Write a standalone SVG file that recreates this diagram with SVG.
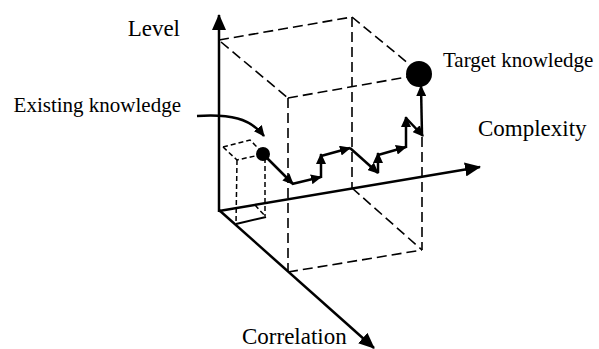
<svg xmlns="http://www.w3.org/2000/svg" width="599" height="349" viewBox="0 0 599 349">
<style>
text{font-family:"Liberation Serif","Times New Roman",serif;fill:#000}
.ax{stroke:#000;stroke-width:2.5;fill:none}
.st{stroke:#000;stroke-width:2.5;fill:none}
.dash{stroke:#000;stroke-width:1.6;fill:none;stroke-dasharray:10,5}
.sdash{stroke:#000;stroke-width:1.5;fill:none;stroke-dasharray:5,3}
</style>
<defs>
<marker id="big" markerUnits="userSpaceOnUse" markerWidth="17" markerHeight="14" refX="15" refY="7" orient="auto">
<path d="M0,0 L16,7 L0,14 Z" fill="#000"/>
</marker>
<marker id="sm" markerUnits="userSpaceOnUse" markerWidth="12" markerHeight="10" refX="10" refY="5" orient="auto">
<path d="M0,0 L11,5 L0,10 Z" fill="#000"/>
</marker>
</defs>
<g id="box">
<path class="dash" d="M219,40 L352,17"/>
<path class="dash" d="M221,42 L288,98"/>
<path class="dash" d="M352,17 L409,64"/>
<path class="dash" d="M288,98 L407,77"/>
<path class="dash" d="M288,98 L288,272"/>
<path class="dash" d="M352,17 L352,188"/>
<path class="dash" d="M422,137 L422,250"/>
<path class="dash" d="M352,188 L422,250"/>
<path class="dash" d="M288,272 L422,250"/>
</g>
<g id="smallbox">
<path class="sdash" d="M223,147 L250,140 L264,154"/>
<path class="sdash" d="M223,147 L237,160 L264,154"/>
<path class="sdash" d="M237,160 L236,224"/>
<path class="sdash" d="M265,158 L265,216"/>
<path class="sdash" d="M255,205 L265,216"/>
<path class="st" d="M236,224 L266,217" style="stroke-width:2"/>
</g>
<g id="axes">
<path class="ax" d="M219,212 L219,15" marker-end="url(#big)"/>
<path class="ax" d="M219,211 L480,167" marker-end="url(#big)"/>
<path class="ax" d="M219,210 L374,348" marker-end="url(#big)"/>
</g>
<g id="connectors">
<path class="st" d="M197,116 C230,114 250,118 264,136" marker-end="url(#sm)"/>
<path class="st" d="M263,154 L293,184" marker-end="url(#sm)"/>
<path class="st" d="M292,184 L321,177" marker-end="url(#sm)"/>
<path class="st" d="M321,178 L321,154" marker-end="url(#sm)"/>
<path class="st" d="M321,156 L350,148" marker-end="url(#sm)"/>
<path class="st" d="M350,148 L378,173" marker-end="url(#sm)"/>
<path class="st" d="M378,173 L378,153" marker-end="url(#sm)"/>
<path class="st" d="M378,155 L406,147" marker-end="url(#sm)"/>
<path class="st" d="M406,148 L406,117" marker-end="url(#sm)"/>
<path class="st" d="M406,118 L423,136" marker-end="url(#sm)"/>
<path class="st" d="M422,135 L421,86" marker-end="url(#sm)"/>
</g>
<g id="existing">
<circle cx="263" cy="154" r="7" fill="#000"/>
<text x="181" y="112" font-size="21" text-anchor="end">Existing knowledge</text>
</g>
<g id="target">
<circle cx="419" cy="74" r="13" fill="#000"/>
<text x="443" y="67" font-size="21">Target knowledge</text>
</g>
<g id="labels">
<text x="180" y="36" font-size="23" text-anchor="end">Level</text>
<text x="478" y="136" font-size="23">Complexity</text>
<text x="242" y="344" font-size="23">Correlation</text>
</g>
</svg>
